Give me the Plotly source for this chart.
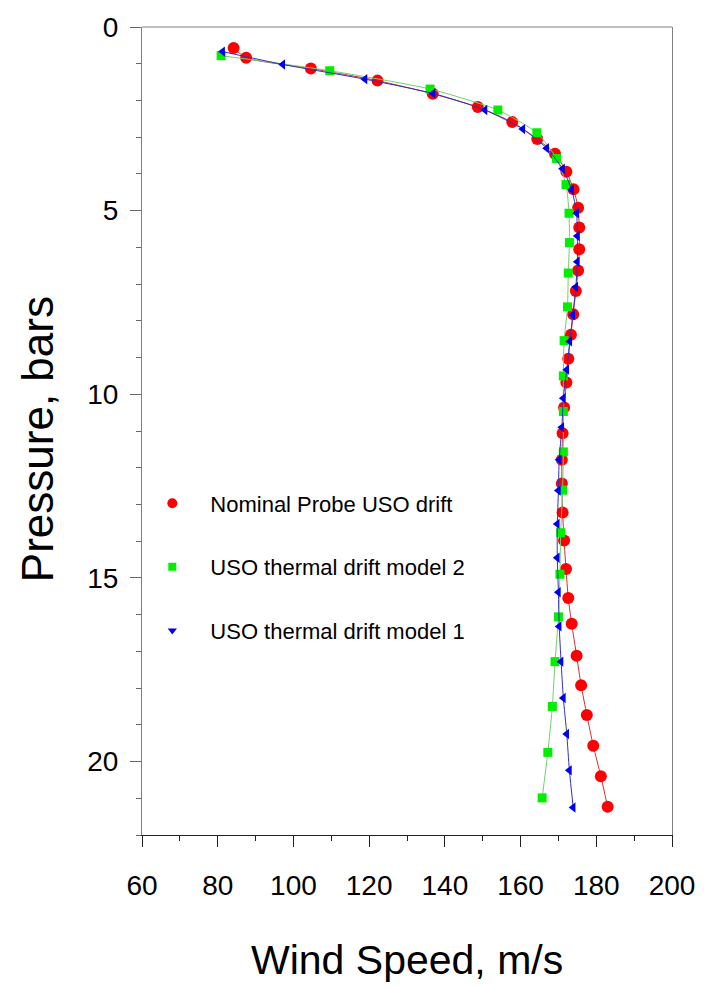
import plotly.graph_objects as go

# ---------------- data ----------------
nominal_speed = [84.2, 87.5, 104.6, 122.2, 136.8, 148.7, 157.8, 164.4, 169.1, 172.1,
                 174.0, 175.2, 175.5, 175.5, 175.2, 174.6, 173.9, 173.3, 172.6, 172.1,
                 171.5, 171.1, 170.9, 170.9, 171.1, 171.5, 172.0, 172.6, 173.5, 174.8,
                 176.0, 177.5, 179.2, 181.2, 183.0]
nominal_pressure = [0.57, 0.84, 1.13, 1.46, 1.82, 2.18, 2.59, 3.05, 3.45, 3.94,
                    4.42, 4.92, 5.46, 6.05, 6.63, 7.19, 7.82, 8.38, 9.03, 9.68,
                    10.36, 11.06, 11.78, 12.43, 13.22, 13.98, 14.76, 15.55, 16.25, 17.12,
                    17.92, 18.73, 19.57, 20.40, 21.23]

model2_speed = [80.9, 109.6, 136.1, 154.0, 164.3, 169.5, 172.0, 172.8, 172.9, 172.6,
                172.4, 171.5, 171.3, 171.3, 171.3, 171.1, 170.6, 170.4, 170.0, 169.1,
                168.4, 167.2, 165.7]
model2_pressure = [0.78, 1.19, 1.69, 2.26, 2.88, 3.58, 4.29, 5.07, 5.87, 6.70,
                   7.62, 8.54, 9.50, 10.47, 11.57, 12.61, 13.77, 14.90, 16.06, 17.28,
                   18.50, 19.75, 20.99]

model1_speed = [81.3, 97.2, 118.9, 136.9, 150.6, 160.6, 166.9, 171.1, 173.5, 174.8,
                175.0, 175.0, 174.6, 173.8, 173.0, 172.2, 171.3, 170.9, 170.2, 170.0,
                169.7, 169.7, 170.0, 170.2, 170.7, 171.3, 172.2, 172.9, 173.9]
model1_pressure = [0.67, 1.02, 1.42, 1.81, 2.26, 2.78, 3.30, 3.86, 4.43, 5.07,
                   5.69, 6.39, 7.08, 7.84, 8.56, 9.33, 10.11, 10.90, 11.78, 12.62,
                   13.53, 14.45, 15.39, 16.32, 17.28, 18.27, 19.25, 20.24, 21.25]

series_names = ["Nominal Probe USO drift", "USO thermal drift model 2", "USO thermal drift model 1"]
x_tick_values = [60, 80, 100, 120, 140, 160, 180, 200]
y_tick_values = [0, 5, 10, 15, 20]
x_title = "Wind Speed, m/s"
y_title = "Pressure, bars"

FONT = "Liberation Sans, Arial, sans-serif"
RED, GREEN, BLUE = "#ff0000", "#00ee00", "#0000ee"

fig = go.Figure()

# data traces (drawn order: red, green, blue)
fig.add_trace(go.Scatter(x=nominal_speed, y=nominal_pressure, mode="lines+markers",
                         line=dict(color="#d03030", width=1, shape="spline", smoothing=0.6),
                         marker=dict(symbol="circle", size=12, color=RED),
                         showlegend=False))
fig.add_trace(go.Scatter(x=model2_speed, y=model2_pressure, mode="lines+markers",
                         line=dict(color="#70d070", width=1, shape="spline", smoothing=0.6),
                         marker=dict(symbol="square", size=9, color=GREEN),
                         showlegend=False))
fig.add_trace(go.Scatter(x=model1_speed, y=model1_pressure, mode="lines+markers",
                         line=dict(color="#3030c0", width=1, shape="spline", smoothing=0.6),
                         marker=dict(symbol="triangle-left", size=9, color=BLUE),
                         showlegend=False))

# legend entries (marker only, as in the reference)
legend_styles = [("circle", 10, RED), ("square", 8, GREEN), ("triangle-down", 8, BLUE)]
for name, (sym, sz, col) in zip(series_names, legend_styles):
    fig.add_trace(go.Scatter(x=[None], y=[None], mode="markers", name=name,
                             legendgroup=name,
                             marker=dict(symbol=sym, size=sz, color=col)))

common_x = dict(range=[60, 200], tickmode="array", tickvals=x_tick_values,
                showgrid=False, zeroline=False)
common_y = dict(range=[22, 0], tickmode="array", tickvals=y_tick_values,
                showgrid=False, zeroline=False)

fig.update_layout(
    width=711, height=987,
    margin=dict(l=142, r=39, t=19, b=152),
    paper_bgcolor="white", plot_bgcolor="white",
    font=dict(family=FONT, color="black"),
    xaxis=dict(**common_x, ticks="outside", ticklen=11, tickwidth=1, tickcolor="#222",
               minor=dict(dtick=10, tick0=60, ticks="outside", ticklen=5, tickcolor="#222"),
               showline=True, linecolor="#222", linewidth=1,
               tickfont=dict(size=28, family=FONT), ticklabelstandoff=14),
    yaxis=dict(**common_y, ticks="outside", ticklen=11, tickwidth=1, tickcolor="#666",
               minor=dict(dtick=1, tick0=0, ticks="outside", ticklen=5, tickcolor="#666"),
               showline=True, linecolor="#808080", linewidth=1, mirror=True,
               tickfont=dict(size=28, family=FONT), ticklabelstandoff=6),
    xaxis2=dict(**common_x, overlaying="x", anchor="y", side="bottom",
                ticks="inside", ticklen=11, tickwidth=1, tickcolor="#222",
                minor=dict(dtick=10, tick0=60, ticks="inside", ticklen=5, tickcolor="#222"),
                showticklabels=False, showline=False),
    yaxis2=dict(**common_y, overlaying="y", anchor="x", side="left",
                ticks="inside", ticklen=11, tickwidth=1, tickcolor="#666",
                minor=dict(dtick=1, tick0=0, ticks="inside", ticklen=5, tickcolor="#666"),
                showticklabels=False, showline=False),
    legend=dict(x=-0.0145, xanchor="left", y=0.4364, yanchor="top",
                font=dict(size=22, family=FONT), bgcolor="rgba(0,0,0,0)",
                itemwidth=66, tracegroupgap=32),
    shapes=[dict(type="line", xref="paper", yref="paper", x0=0, x1=1, y0=1, y1=1,
                 line=dict(color="#808080", width=1), layer="above")],
    annotations=[
        dict(text=x_title, xref="paper", yref="paper", x=0.5, y=-0.1545,
             xanchor="center", yanchor="middle", showarrow=False,
             font=dict(size=41, family=FONT)),
        dict(text=y_title, xref="paper", yref="paper", x=-0.198, y=0.490,
             xanchor="center", yanchor="middle", textangle=-90, showarrow=False,
             font=dict(size=44, family=FONT)),
    ],
)

fig.write_html("out.html")
